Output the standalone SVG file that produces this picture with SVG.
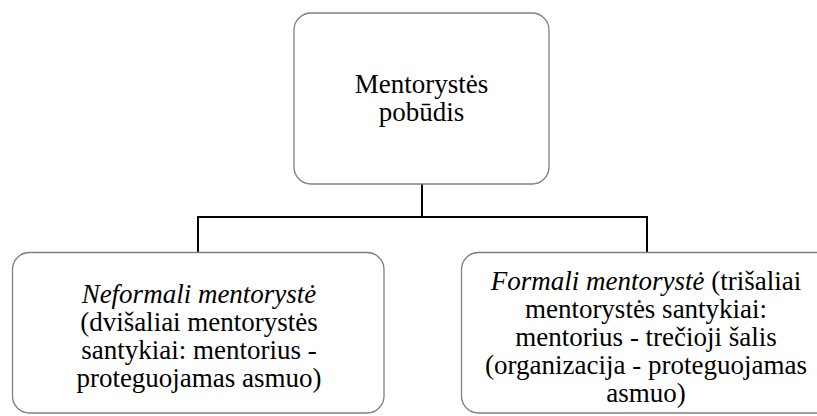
<svg xmlns="http://www.w3.org/2000/svg" width="817" height="416" viewBox="0 0 817 416">
<style>
.box{fill:#ffffff;stroke:#808080;stroke-width:1.3}
.conn{fill:none;stroke:#000000;stroke-width:2}
.t{font-family:'Liberation Serif','Times New Roman',serif;font-size:27px;fill:#000000;text-anchor:middle}
.it{font-style:italic}
</style>
<rect width="817" height="416" fill="#ffffff"/>
<g id="connectors">
<path class="conn" d="M422,184 V217 M198,253 V217 H647 V253"/>
</g>
<g id="node-root">
<rect class="box" x="294" y="13" width="255" height="171" rx="17"/>
<text class="t" x="421.5" y="93">Mentorystės</text>
<text class="t" x="421.5" y="120.5">pobūdis</text>
</g>
<g id="node-neformali">
<rect class="box" x="12.5" y="252.5" width="371.5" height="160.5" rx="17"/>
<text class="t it" x="199" y="303">Neformali mentorystė</text>
<text class="t" x="199" y="331">(dvišaliai mentorystės</text>
<text class="t" x="199" y="359">santykiai: mentorius -</text>
<text class="t" x="199" y="387">proteguojamas asmuo)</text>
</g>
<g id="node-formali">
<rect class="box" x="461.5" y="252.5" width="371.5" height="160.5" rx="17"/>
<text class="t" x="646" y="290"><tspan class="it">Formali mentorystė</tspan> (trišaliai</text>
<text class="t" x="646" y="318">mentorystės santykiai:</text>
<text class="t" x="646" y="346">mentorius - trečioji šalis</text>
<text class="t" x="646" y="374">(organizacija - proteguojamas</text>
<text class="t" x="646" y="402">asmuo)</text>
</g>
</svg>
